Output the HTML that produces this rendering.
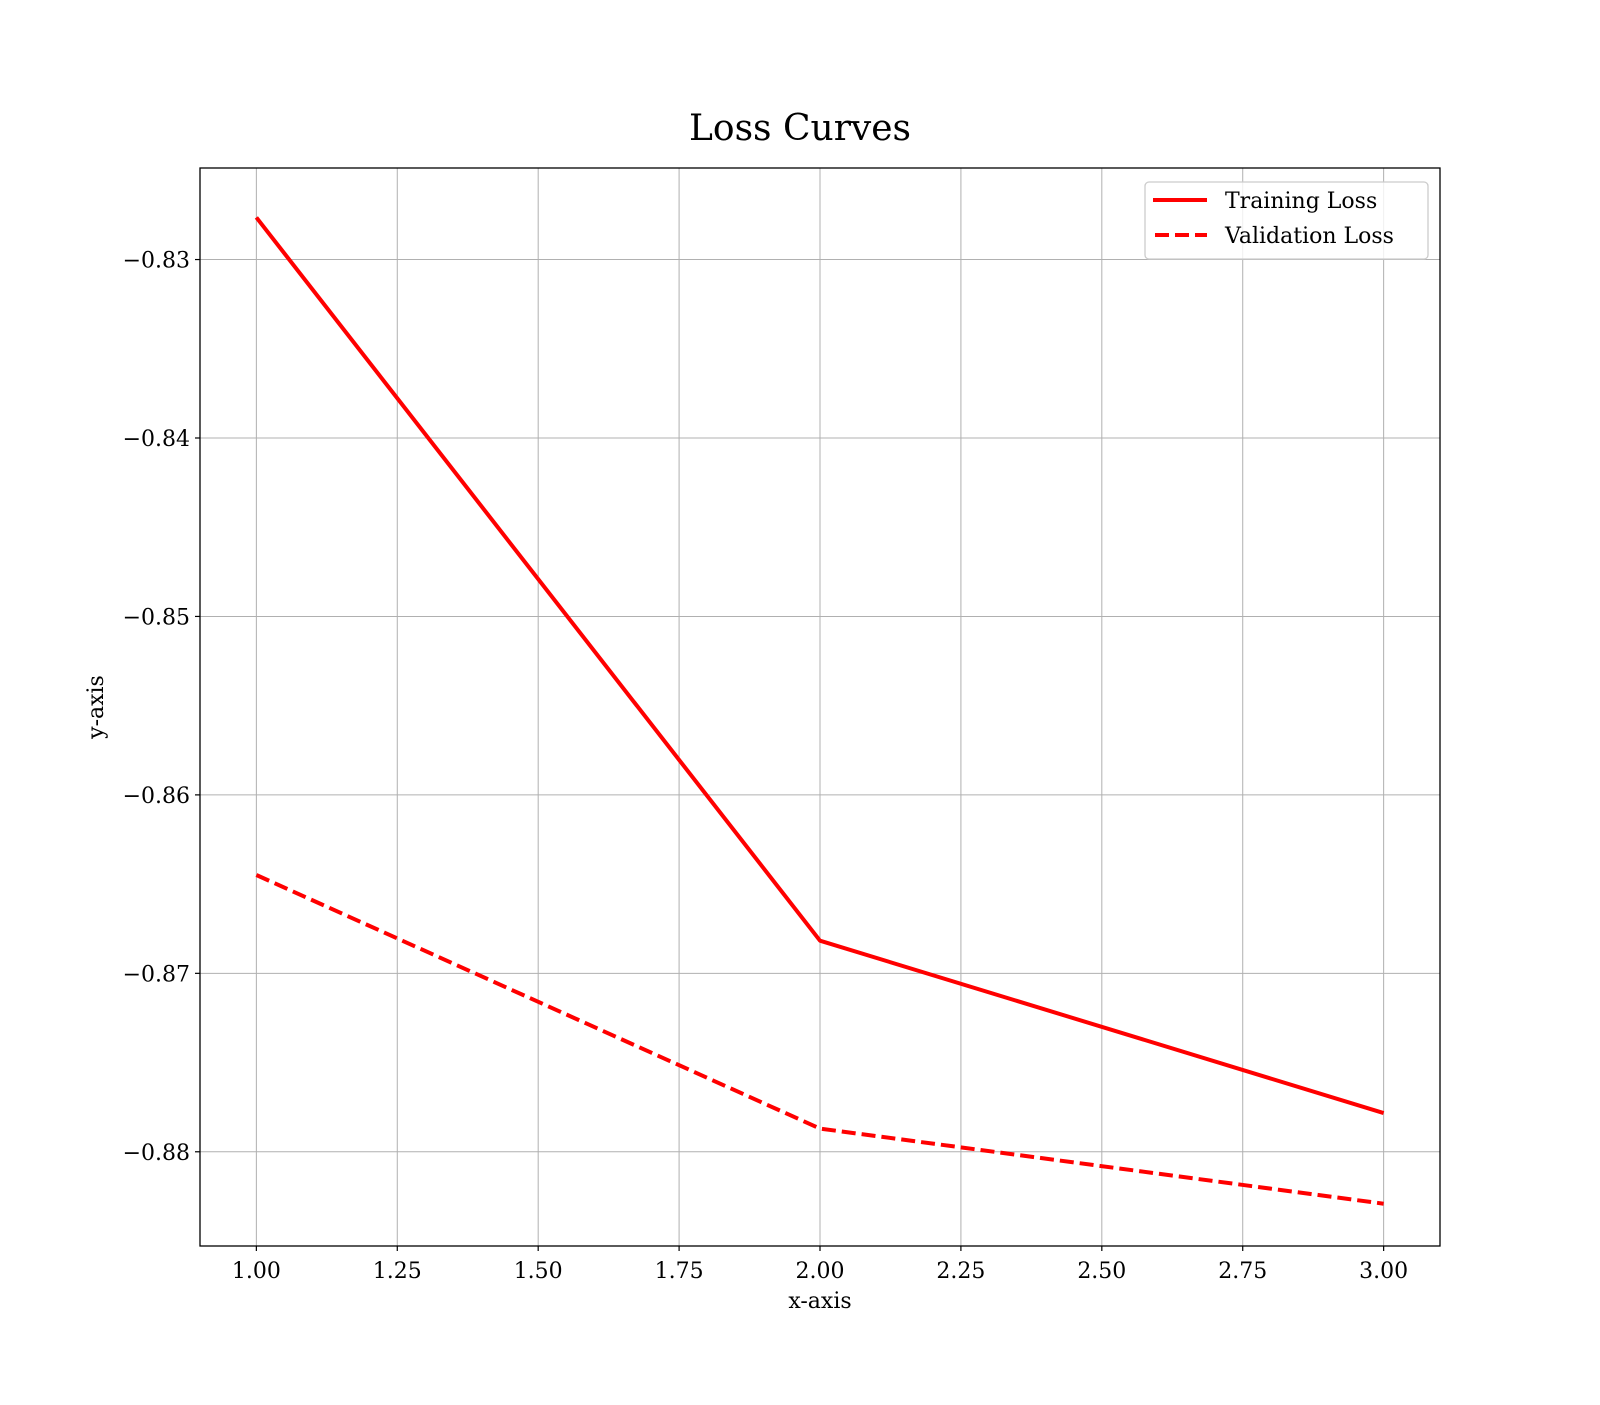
<!DOCTYPE html>
<html><head><meta charset="utf-8"><style>
body{margin:0;background:#fff}
svg text{font-family:"DejaVu Serif","Liberation Serif",serif;fill:#000}
</style></head><body>
<svg width="1600" height="1400" viewBox="0 0 1600 1400" xmlns="http://www.w3.org/2000/svg">
<rect width="1600" height="1400" fill="#fff"/>
<g id="grid"></g>
<g id="series"></g>
<rect x="200" y="168" width="1240" height="1078" fill="none" stroke="#000" stroke-width="1.3"/>
<g id="ticks"></g>
<text x="800" y="140" font-size="36" text-anchor="middle">Loss Curves</text>
<text x="820" y="1308" font-size="22" text-anchor="middle">x-axis</text>
<text transform="translate(103,707) rotate(-90)" font-size="22" text-anchor="middle">y-axis</text>
<g>
<rect x="1145" y="182" width="283" height="77" rx="4" fill="#fff" fill-opacity="0.8" stroke="#ccc" stroke-width="1.3"/>
<line x1="1153" y1="200" x2="1207" y2="200" stroke="#f00" stroke-width="4"/>
<text x="1225" y="208" font-size="22">Training Loss</text>
<line x1="1155" y1="235" x2="1207" y2="235" stroke="#f00" stroke-width="4" stroke-dasharray="14,6"/>
<text x="1225" y="243" font-size="22">Validation Loss</text>
</g>
</svg>
<script>
const epochs=[1,2,3];
const trainingLoss=[-0.82764,-0.86817,-0.87783];
const validationLoss=[-0.86449,-0.87870,-0.88291];
const xTicks=[1.00,1.25,1.50,1.75,2.00,2.25,2.50,2.75,3.00];
const yTicks=[-0.83,-0.84,-0.85,-0.86,-0.87,-0.88];
const NS="http://www.w3.org/2000/svg";
const X0=200,X1=1440,Y0=168,Y1=1246,xmin=0.9,xmax=3.1,ymin=-0.88528,ymax=-0.82487;
const xs=v=>X0+(v-xmin)/(xmax-xmin)*(X1-X0);
const ys=v=>Y1-(v-ymin)/(ymax-ymin)*(Y1-Y0);
const grid=document.getElementById('grid'),ticks=document.getElementById('ticks'),series=document.getElementById('series');
function mk(tag,attrs,parent){const e=document.createElementNS(NS,tag);for(const k in attrs)e.setAttribute(k,attrs[k]);parent.appendChild(e);return e;}
xTicks.forEach(t=>{
const x=xs(t);
const g=mk('line',{x1:x,x2:x,y1:Y0,y2:Y1,stroke:'#b0b0b0','stroke-width':1},grid);


const tk=mk('line',{x1:x,x2:x,y1:Y1,y2:Y1+5,stroke:'#000','stroke-width':1.2},ticks);


const tx=mk('text',{x:x,y:Y1+32,'font-size':22,'text-anchor':'middle'},ticks);
tx.textContent=t.toFixed(2);


});
yTicks.forEach(t=>{
const y=ys(t);
const g=mk('line',{x1:X0,x2:X1,y1:y,y2:y,stroke:'#b0b0b0','stroke-width':1},grid);


const tk=mk('line',{x1:X0-5,x2:X0,y1:y,y2:y,stroke:'#000','stroke-width':1.2},ticks);


const tx=mk('text',{x:X0-10,y:y+8,'font-size':22,'text-anchor':'end'},ticks);
tx.textContent='\u2212'+Math.abs(t).toFixed(2);


});
function pts(vals){return epochs.map((e,i)=>xs(e)+','+ys(vals[i])).join(' ');}
const tl=mk('polyline',{points:pts(trainingLoss),fill:'none',stroke:'#f00','stroke-width':4,'stroke-linejoin':'round'},series);


const vl=mk('polyline',{points:pts(validationLoss),fill:'none',stroke:'#f00','stroke-width':4,'stroke-dasharray':'14,6'},series);


</script>
</body></html>
